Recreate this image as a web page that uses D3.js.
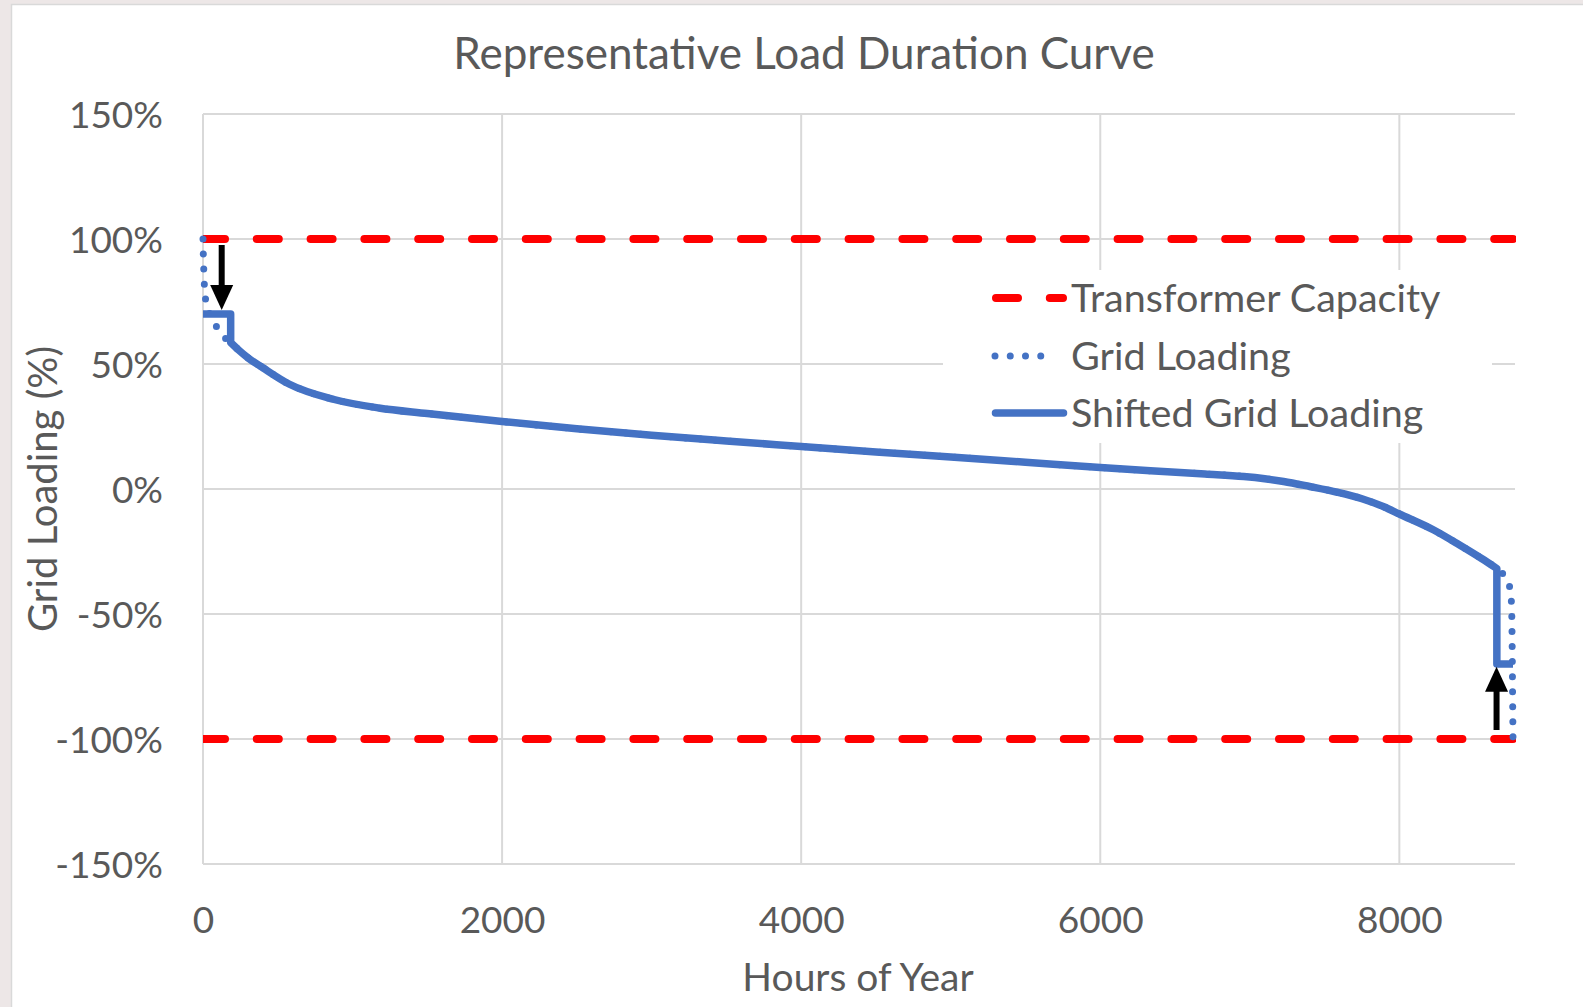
<!DOCTYPE html>
<html>
<head>
<meta charset="utf-8">
<script src="https://cdn.jsdelivr.net/npm/d3@7"></script>
<style>
  html, body { margin: 0; padding: 0; background: #ede7e7; }
  svg { display: block; }
  text { font-family: Lato, "Open Sans", sans-serif; fill: #595959; }
</style>
</head>
<body>
<svg id="chart" width="1583" height="1007"></svg>
<script>
// Load duration curve: hours of the year sorted by grid loading (% of transformer rating)
const hours = [0, 2, 5, 8, 12, 18, 33, 60, 105, 147, 185, 240, 300, 400, 575, 877, 1175, 1500,
  2000, 2500, 3000, 3500, 4000, 4500, 5000, 5500, 6000, 6336, 6700, 6960, 7100, 7226, 7400,
  7585, 7750, 7896, 8000, 8230, 8400, 8550, 8652, 8700, 8720, 8740, 8750, 8754, 8757, 8760];
const gridLoading = [100, 94, 88, 83, 79, 75.5, 72.3, 67.6, 64, 60.5, 58.6, 55.5, 52.5, 48.5, 42, 35.8, 32.4, 30.2,
  27.0, 24.1, 21.5, 19.2, 17.0, 14.8, 12.8, 10.7, 8.6, 7.3, 6.0, 5.0, 4.1, 3.0, 1.0,
  -1.3, -3.9, -7.1, -10.0, -16.4, -22.3, -27.8, -31.8, -34.5, -36.4, -40, -46, -60, -80, -100];

// Shifted loading: peak hours held at +70%, deepest export hours held at -70%
const shiftStartHour = 185;
const shiftEndHour = 8652;
const shiftedPeakHours = [0, 185];
const shiftedPeakLoading = [70, 70];
const shiftedValleyHours = [8652, 8760];
const shiftedValleyLoading = [-70, -70];

// Transformer capacity limits
const capacityLimits = [100, -100];

// Arrow annotations: [hour, tail %, tip %]
const arrowHours = [125, 8650];
const arrowTails = [97.6, -96.4];
const arrowTips = [71.6, -71.1];

const xTicks = [0, 2000, 4000, 6000, 8000];
const yTicks = [-150, -100, -50, 0, 50, 100, 150];

const legendLabels = ["Transformer Capacity", "Grid Loading", "Shifted Grid Loading"];

const chartTitle = "Representative Load Duration Curve";
const xTitle = "Hours of Year";
const yTitle = "Grid Loading (%)";

const RED = "#ff0000";
const BLUE = "#4472c4";
const GRID = "#d9d9d9";
const FONT = "Lato, 'Open Sans', sans-serif";

const svg = d3.select("#chart");

// chart area
svg.append("rect")
  .attr("x", 11.5).attr("y", 4.5)
  .attr("width", 1600).attr("height", 1020)
  .attr("fill", "#ffffff")
  .attr("stroke", "#d9d9d9").attr("stroke-width", 1.5);

const plot = { left: 203, right: 1513, top: 114, bottom: 864 };

const x = d3.scaleLinear().domain([0, 8760]).range([plot.left, plot.right]);
const y = d3.scaleLinear().domain([-150, 150]).range([plot.bottom, plot.top]);

svg.append("defs").append("clipPath").attr("id", "plotClip")
  .append("rect")
  .attr("x", plot.left).attr("y", plot.top - 10)
  .attr("width", plot.right - plot.left + 3).attr("height", plot.bottom - plot.top + 20);

// gridlines
const grid = svg.append("g");
grid.selectAll("line.h").data(yTicks).join("line")
  .attr("x1", plot.left).attr("x2", plot.right + 2)
  .attr("y1", d => y(d)).attr("y2", d => y(d))
  .attr("stroke", GRID).attr("stroke-width", 2);
grid.selectAll("line.v").data(xTicks).join("line")
  .attr("x1", d => x(d)).attr("x2", d => x(d))
  .attr("y1", plot.top).attr("y2", plot.bottom)
  .attr("stroke", GRID).attr("stroke-width", 2);

// axes (labels only, no tick marks)
const yAxis = d3.axisLeft(y).tickValues(yTicks).tickSize(0).tickPadding(0)
  .tickFormat(d => d + "%");
const yAxisG = svg.append("g").attr("transform", `translate(${plot.left - 40},0)`).call(yAxis);
yAxisG.select(".domain").remove();
yAxisG.selectAll("text")
  .attr("font-size", 37).attr("dy", "0.36em").attr("x", 0)
  .style("font-family", FONT).attr("fill", "#595959");

const xAxis = d3.axisBottom(x).tickValues(xTicks).tickSize(0).tickPadding(0)
  .tickFormat(d3.format("d"));
const xAxisG = svg.append("g").attr("transform", `translate(0,${plot.bottom})`).call(xAxis);
xAxisG.select(".domain").remove();
xAxisG.selectAll("text")
  .attr("font-size", 37).attr("dy", 0).attr("y", 933 - plot.bottom)
  .style("font-family", FONT).attr("fill", "#595959");

// capacity limit lines
const line = d3.line().x(d => x(d[0])).y(d => y(d[1]));
const smooth = d3.line().x(d => x(d[0])).y(d => y(d[1])).curve(d3.curveMonotoneX);
const capG = svg.append("g").attr("clip-path", "url(#plotClip)");
capG.selectAll("path").data(capacityLimits).join("path")
  .attr("d", d => line([[0, d], [8760, d]]))
  .attr("fill", "none").attr("stroke", RED).attr("stroke-width", 8)
  .attr("stroke-linecap", "round").attr("stroke-dasharray", "22 31.8");

// grid loading (dotted)
const gridPts = hours.map((h, i) => [h, gridLoading[i]]);
svg.append("path")
  .attr("d", smooth(gridPts))
  .attr("fill", "none").attr("stroke", BLUE).attr("stroke-width", 7)
  .attr("stroke-linecap", "round").attr("stroke-dasharray", "0 15");

// shifted grid loading (solid): flat peak, smooth middle, flat valley
const headPts = shiftedPeakHours.map((h, i) => [h, shiftedPeakLoading[i]]);
const midPts = gridPts.filter(p => p[0] >= shiftStartHour && p[0] <= shiftEndHour);
const tailPts = shiftedValleyHours.map((h, i) => [h, shiftedValleyLoading[i]]);
const shiftedPath = line(headPts)
  + smooth(midPts).replace(/^M/, "L")
  + line(tailPts).replace(/^M/, "L");
svg.append("path")
  .attr("d", shiftedPath)
  .attr("fill", "none").attr("stroke", BLUE).attr("stroke-width", 7.5)
  .attr("stroke-linejoin", "round").attr("stroke-linecap", "butt");

// arrows showing the shift
const arrows = arrowHours.map((h, i) => ({ h, tail: arrowTails[i], tip: arrowTips[i] }));
const arrowG = svg.append("g");
arrows.forEach(a => {
  const ax = x(a.h), y0 = y(a.tail), y1 = y(a.tip);
  const dir = Math.sign(y1 - y0);
  const headLen = 25, headHalf = 11.5;
  const baseY = y1 - dir * headLen;
  arrowG.append("line")
    .attr("x1", ax).attr("x2", ax).attr("y1", y0).attr("y2", baseY + dir * 2)
    .attr("stroke", "#000").attr("stroke-width", 6);
  arrowG.append("path")
    .attr("d", `M${ax - headHalf},${baseY}L${ax + headHalf},${baseY}L${ax},${y1}Z`)
    .attr("fill", "#000");
});

// legend
const legend = svg.append("g");
legend.append("rect")
  .attr("x", 943).attr("y", 270).attr("width", 549).attr("height", 173)
  .attr("fill", "#ffffff");
const rowsY = [298, 356, 413];
const styles = [
  { stroke: RED, width: 8, dash: "22 31.8", cap: "round", x1: 996, x2: 1063 },
  { stroke: BLUE, width: 7, dash: "0 15.25", cap: "round", x1: 995, x2: 1056 },
  { stroke: BLUE, width: 7.5, dash: null, cap: "round", x1: 995.5, x2: 1063.5 }
];
legendLabels.forEach((label, i) => {
  const s = styles[i];
  legend.append("line")
    .attr("x1", s.x1).attr("x2", s.x2).attr("y1", rowsY[i]).attr("y2", rowsY[i])
    .attr("stroke", s.stroke).attr("stroke-width", s.width)
    .attr("stroke-linecap", s.cap)
    .attr("stroke-dasharray", s.dash);
  legend.append("text")
    .attr("x", 1071).attr("y", rowsY[i]).attr("dy", "0.36em")
    .attr("font-size", 39.5).text(label);
});

// titles
svg.append("text")
  .attr("x", 804).attr("y", 69).attr("text-anchor", "middle")
  .attr("font-size", 44).text(chartTitle);
svg.append("text")
  .attr("x", (plot.left + plot.right) / 2).attr("y", 991).attr("text-anchor", "middle")
  .attr("font-size", 39).text(xTitle);
svg.append("text")
  .attr("transform", `translate(57,${(plot.top + plot.bottom) / 2}) rotate(-90)`)
  .attr("text-anchor", "middle")
  .attr("font-size", 40).text(yTitle);
</script>
</body>
</html>
